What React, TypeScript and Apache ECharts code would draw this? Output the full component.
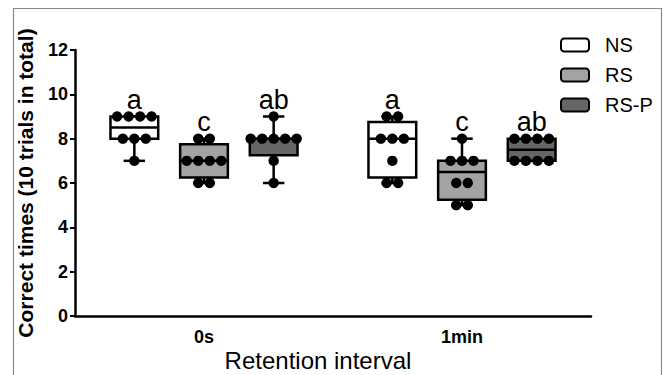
import React, { useEffect, useRef } from "react";
import * as echarts from "echarts";

const categories = ["0s", "1min"];
const groups = ["NS", "RS", "RS-P"];
// individual observations per group, per retention interval
const nsValues = [
  [7, 8, 8, 8, 9, 9, 9, 9],
  [6, 6, 7, 8, 8, 8, 9, 9],
];
const rsValues = [
  [6, 6, 7, 7, 7, 7, 8, 8],
  [5, 5, 6, 6, 7, 7, 7, 8],
];
const rspValues = [
  [6, 7, 8, 8, 8, 8, 8, 9],
  [7, 7, 7, 7, 8, 8, 8, 8],
];
const letters = [
  ["a", "a"],
  ["c", "c"],
  ["ab", "ab"],
];
const yTicks = [0, 2, 4, 6, 8, 10, 12];

const fills = ["#ffffff", "#a3a3a3", "#666666"];
const FONT = "'Liberation Sans', Arial, sans-serif";

function quantile(sorted: number[], p: number) {
  const n = sorted.length;
  const pos = (n + 1) * p;
  if (pos <= 1) return sorted[0];
  if (pos >= n) return sorted[n - 1];
  const lo = Math.floor(pos);
  const frac = pos - lo;
  return sorted[lo - 1] + frac * (sorted[lo] - sorted[lo - 1]);
}

function stats(vals: number[]) {
  const s = [...vals].sort((a, b) => a - b);
  return [s[0], quantile(s, 0.25), quantile(s, 0.5), quantile(s, 0.75), s[s.length - 1]];
}

function dotItems(vals: number[], cat: number) {
  const counts: Record<string, number> = {};
  vals.forEach((v) => (counts[v] = (counts[v] || 0) + 1));
  const seen: Record<string, number> = {};
  return vals.map((v) => {
    const slot = seen[v] || 0;
    seen[v] = slot + 1;
    return [cat, v, slot, counts[v]];
  });
}

const allValues = [nsValues, rsValues, rspValues];

export default function App() {
  const ref = useRef<HTMLDivElement>(null);
  useEffect(() => {
    if (!ref.current) return;
    const chart = echarts.init(ref.current, null, { renderer: "svg" });

    const offsetFrac = 0.27;
    const boxFrac = 0.185;

    const boxSeries = groups.map((g, gi) => ({
      type: "custom",
      name: g,
      z: 2,
      data: allValues[gi].map((vals, ci) => [ci, ...stats(vals)]),
      renderItem: (params: any, api: any) => {
        const cat = api.value(0);
        const mn = api.value(1), q1 = api.value(2), md = api.value(3), q3 = api.value(4), mx = api.value(5);
        const band = api.size([1, 0])[0];
        const cx = api.coord([cat, 0])[0] + (gi - 1) * band * offsetFrac;
        const bw = band * boxFrac;
        const y = (v: number) => api.coord([cat, v])[1];
        const ls = { stroke: "#000", lineWidth: 2.5 };
        const capW = bw * 0.45;
        const children: any[] = [
          { type: "line", shape: { x1: cx, y1: y(mx), x2: cx, y2: y(q3) }, style: ls },
          { type: "line", shape: { x1: cx, y1: y(q1), x2: cx, y2: y(mn) }, style: ls },
          { type: "line", shape: { x1: cx - capW / 2, y1: y(mx), x2: cx + capW / 2, y2: y(mx) }, style: ls },
          { type: "line", shape: { x1: cx - capW / 2, y1: y(mn), x2: cx + capW / 2, y2: y(mn) }, style: ls },
          {
            type: "rect",
            shape: { x: cx - bw / 2, y: y(q3), width: bw, height: y(q1) - y(q3) },
            style: { fill: fills[gi], stroke: "#000", lineWidth: 2.5 },
          },
          { type: "line", shape: { x1: cx - bw / 2, y1: y(md), x2: cx + bw / 2, y2: y(md) }, style: ls },
          {
            type: "text",
            x: cx,
            y: y(mx) - 17,
            style: {
              text: letters[gi][cat],
              fill: "#000",
              font: `27px ${FONT}`,
              align: "center",
              verticalAlign: "middle",
            },
          },
        ];
        return { type: "group", children };
      },
    }));

    const dotSeries = groups.map((g, gi) => ({
      type: "custom",
      name: g + " points",
      z: 3,
      data: allValues[gi].flatMap((vals, ci) => dotItems(vals, ci)),
      renderItem: (params: any, api: any) => {
        const cat = api.value(0);
        const v = api.value(1);
        const slot = api.value(2);
        const cnt = api.value(3);
        const band = api.size([1, 0])[0];
        const cx = api.coord([cat, 0])[0] + (gi - 1) * band * offsetFrac;
        const spacing = 11.5;
        const x = cx + (slot - (cnt - 1) / 2) * spacing;
        return {
          type: "circle",
          shape: { cx: x, cy: api.coord([cat, v])[1], r: 5.2 },
          style: { fill: "#000" },
        };
      },
    }));

    chart.setOption({
      animation: false,
      backgroundColor: "#fff",
      grid: { left: 75, right: 72, top: 50, bottom: 59 },
      legend: {
        orient: "vertical",
        left: 555,
        top: 30,
        itemWidth: 28,
        itemHeight: 13,
        itemGap: 10,
        textStyle: { fontFamily: FONT, fontSize: 20, color: "#000", padding: [0, 0, 0, 11] },
        data: groups.map((g, gi) => ({
          name: g,
          icon: "roundRect",
          itemStyle: { color: fills[gi], borderColor: "#000", borderWidth: 2 },
        })),
        selectedMode: false,
      },
      xAxis: {
        type: "category",
        data: categories,
        axisTick: { show: false },
        axisLine: { lineStyle: { color: "#000", width: 2.5 } },
        axisLabel: { fontFamily: FONT, fontSize: 18, fontWeight: "bold", color: "#000", margin: 12 },
      },
      yAxis: {
        type: "value",
        min: yTicks[0],
        max: yTicks[yTicks.length - 1],
        interval: 2,
        name: "Correct times (10 trials in total)",
        nameLocation: "middle",
        nameRotate: 90,
        nameGap: 39,
        nameTextStyle: { fontFamily: FONT, fontSize: 21, fontWeight: "bold", color: "#000" },
        splitLine: { show: false },
        axisLine: { show: true, lineStyle: { color: "#000", width: 2.5 } },
        axisTick: { show: true, length: 5, lineStyle: { color: "#000", width: 2 } },
        axisLabel: { fontFamily: FONT, fontSize: 18, fontWeight: "bold", color: "#000", margin: 7 },
      },
      graphic: [
        {
          type: "rect",
          shape: { x: 13.5, y: 8.5, width: 648, height: 420 },
          style: { fill: "none", stroke: "#8a8a8a", lineWidth: 1.2 },
          silent: true,
        },
        {
          type: "text",
          x: 318,
          y: 360,
          style: {
            text: "Retention interval",
            font: `24px ${FONT}`,
            fill: "#000",
            align: "center",
            verticalAlign: "middle",
          },
        },
      ],
      series: [...boxSeries, ...dotSeries],
    });
    return () => chart.dispose();
  }, []);
  return (
    <div
      ref={ref}
      style={{ position: "fixed", left: 0, top: 0, width: 663, height: 375 }}
    />
  );
}
